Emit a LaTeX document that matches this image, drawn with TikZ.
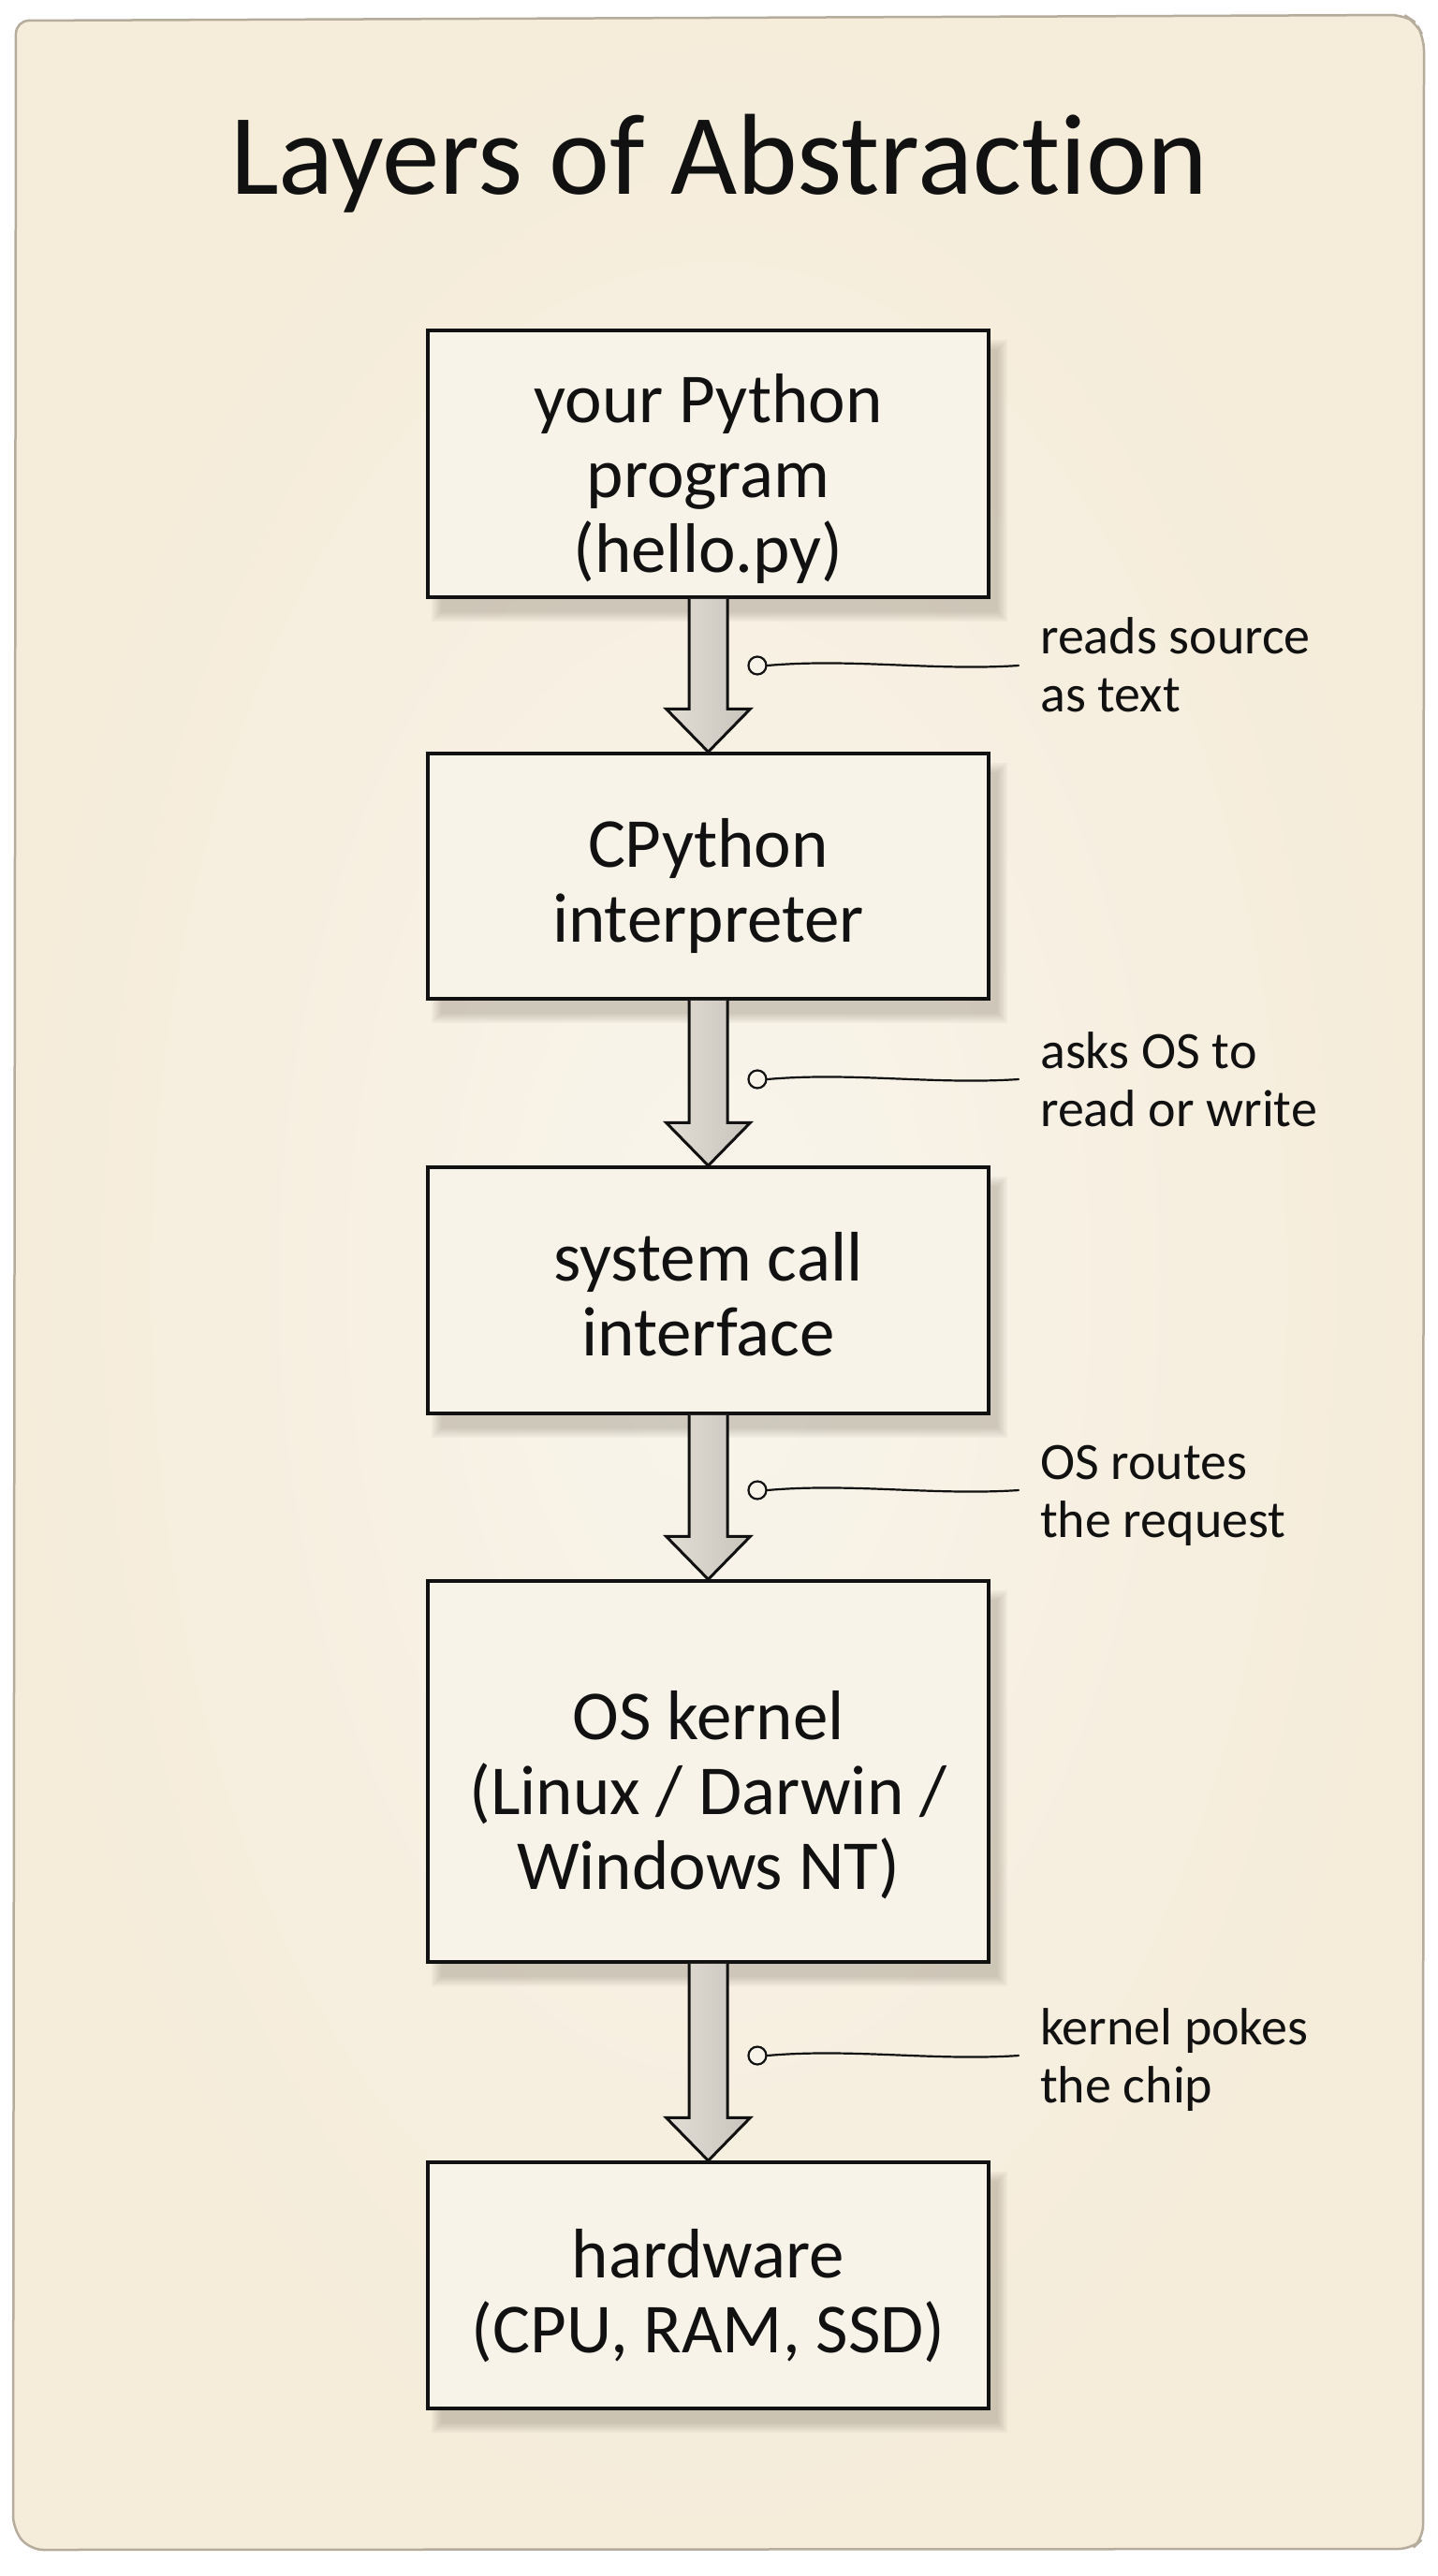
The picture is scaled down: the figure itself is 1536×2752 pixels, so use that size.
\documentclass[tikz,border=0pt]{standalone}
\usepackage{fontspec}
\setmainfont{Carlito}[Ligatures={NoCommon,NoRequired,NoContextual}]
\usetikzlibrary{calc}
\definecolor{paperin}{RGB}{249,245,236}
\definecolor{paperout}{RGB}{245,236,218}
\definecolor{paperedge}{RGB}{182,172,156}
\definecolor{boxfill}{RGB}{248,243,233}
\definecolor{shadowc}{RGB}{120,110,95}
\definecolor{arrL}{RGB}{226,222,214}
\definecolor{arrR}{RGB}{200,196,187}
\definecolor{ink}{RGB}{17,17,17}
\pgfdeclarelayer{paper}
\pgfdeclarelayer{shadow}
\pgfsetlayers{paper,shadow,main}
\tikzset{
  layerbox/.style={draw=ink, line width=3.5pt, fill=boxfill, rectangle,
    minimum width=599pt, inner sep=0pt},
  boxtext/.style={font=\fontsize{75}{80}\selectfont, align=center, text=ink, inner sep=0pt},
  titletext/.style={font=\fontsize{123}{130}\selectfont, text=ink, anchor=base, inner sep=0pt},
  note/.style={font=\fontsize{56}{62}\selectfont, align=left, text=ink, anchor=base west, inner sep=0pt},
  dot/.style={circle, draw=ink, line width=2.2pt, fill=boxfill, minimum size=19pt, inner sep=0pt},
  conn/.style={draw=ink, line width=2.2pt, line cap=round},
  blk/.style={draw=ink, line width=3pt, line join=miter, left color=arrL, right color=arrR},
}
\begin{document}
\begin{tikzpicture}[x=1pt,y=-1pt]
\useasboundingbox (0,0) rectangle (1536,2752);

% paper sheet
\begin{pgfonlayer}{paper}
\fill[white] (0,0) rectangle (1536,2752);
\shade[inner color=paperin, outer color=paperout, draw=paperedge, line width=2.5pt, rounded corners=14pt]
  (17,22) -- (1500,16) -- (1512,24) -- (1521,40) -- (1520,2712) -- (1508,2723) -- (32,2724) -- (14,2702) -- cycle;
\end{pgfonlayer}

% title
\node[titletext] (title) at (768,207) {Layers of Abstraction};

% layer boxes
\node[layerbox, minimum height=285pt] (b1) at (756.5,495.5) {};
\node[layerbox, minimum height=262pt] (b2) at (756.5,936) {};
\node[layerbox, minimum height=263pt] (b3) at (756.5,1378.5) {};
\node[layerbox, minimum height=407pt] (b4) at (756.5,1892.5) {};
\node[layerbox, minimum height=263pt] (b5) at (756.5,2441.5) {};

\node[boxtext] (t1) at ($(b1.center)+(0,15.5)$) {your Python\\program\\(hello.py)};
\node[boxtext] (t2) at ($(b2.center)+(0,10)$) {CPython\\interpreter};
\node[boxtext] (t3) at ($(b3.center)+(0,4.5)$) {system call\\interface};
\node[boxtext] (t4) at ($(b4.center)+(0,25)$) {OS kernel\\(Linux / Darwin /\\Windows NT)};
\node[boxtext] (t5) at ($(b5.center)+(0,11)$) {hardware\\(CPU, RAM, SSD)};

% box shadows
\begin{pgfonlayer}{shadow}
\foreach \b in {b1,b2,b3,b4,b5}{
  \foreach \k in {0,1,2,3,4,5}{
    \fill[shadowc, opacity=0.06]
      ($(\b.north west)+(16-\k*2,22-\k*2)$) rectangle ($(\b.south east)+(8+\k*2,14+\k*2)$);
  }
}
\end{pgfonlayer}

% block arrows
\foreach \u/\v in {b1/b2,b2/b3,b3/b4,b4/b5}{
  \draw[blk] ([xshift=-20.5pt]\u.south) -- ([xshift=-20.5pt,yshift=46pt]\v.north)
    -- ([xshift=-45pt,yshift=46pt]\v.north) -- (\v.north)
    -- ([xshift=45pt,yshift=46pt]\v.north) -- ([xshift=20.5pt,yshift=46pt]\v.north)
    -- ([xshift=20.5pt]\u.south);
}

% annotations (base = baseline of the last line)
\node[note] (n1) at (1111,760) {reads source\\as text};
\node[note] (n2) at (1111,1203) {asks OS to\\read or write};
\node[note] (n3) at (1111,1642) {OS routes\\the request};
\node[note] (n4) at (1111,2246) {kernel pokes\\the chip};

\node[dot] (c1) at (809,711) {};
\node[dot] (c2) at (809,1153) {};
\node[dot] (c3) at (809,1592) {};
\node[dot] (c4) at (809,2196) {};

\coordinate (e1) at (1088,711);
\coordinate (e2) at (1088,1153);
\coordinate (e3) at (1088,1592);
\coordinate (e4) at (1088,2196);

\foreach \i in {1,2,3,4}{
  \draw[conn] (c\i.east) .. controls +(90,-8) and +(-90,6) .. (e\i);
}
\end{tikzpicture}
\end{document}
